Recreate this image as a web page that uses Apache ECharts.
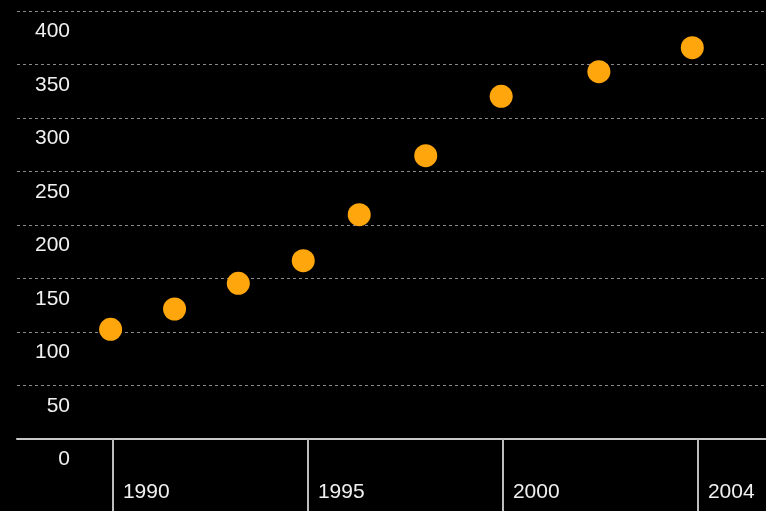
<!DOCTYPE html>
<html>
<head>
<meta charset="utf-8">
<script src="https://cdn.jsdelivr.net/npm/echarts@6/dist/echarts.min.js"></script>
<style>
html,body{margin:0;padding:0;background:#000;}
#chart{width:766px;height:511px;}
</style>
</head>
<body>
<div id="chart"></div>
<script>
// Tick labels along the x axis (evenly spaced positions 0..3)
const xTickLabels = ['1990', '1995', '2000', '2004'];
const xTickPositions = [0, 1, 2, 3];
// Point positions in x-tick units and their values
const pointX = [-0.012, 0.316, 0.643, 0.976, 1.263, 1.604, 1.991, 2.492, 2.971];
const pointY = [102.5, 121.5, 145.5, 166.6, 209.6, 264.8, 320.3, 343.3, 365.7];
const yTicks = [0, 50, 100, 150, 200, 250, 300, 350, 400];

const chart = echarts.init(document.getElementById('chart'));
chart.setOption({
  backgroundColor: '#000000',
  animation: false,
  grid: { left: 17, right: 0, top: 11, bottom: 72 },
  xAxis: {
    type: 'value',
    min: -0.492,
    max: 3.349,
    splitLine: { show: false },
    axisLine: { show: true, lineStyle: { color: '#c8c8c8', width: 2 } },
    axisTick: {
      show: true,
      customValues: xTickPositions,
      length: 74,
      inside: false,
      lineStyle: { color: '#bdbdbd', width: 2 }
    },
    axisLabel: {
      customValues: xTickPositions,
      formatter: function (v) {
        const i = xTickPositions.indexOf(Math.round(v));
        return i >= 0 ? xTickLabels[i] : '';
      },
      color: '#f0f0f0',
      fontSize: 21,
      fontFamily: 'Liberation Sans, Arial, sans-serif',
      align: 'left',
      verticalAlign: 'top',
      lineHeight: 21,
      margin: 43,
      padding: [0, 0, 0, 10]
    }
  },
  yAxis: {
    type: 'value',
    min: 0,
    max: 400,
    interval: 50,
    axisLine: { show: false },
    axisTick: { show: false },
    splitLine: {
      show: true,
      lineStyle: { color: '#8a8a8a', type: [3, 3], width: 1 }
    },
    axisLabel: {
      inside: true,
      margin: 53,
      align: 'right',
      verticalAlign: 'top',
      lineHeight: 21,
      padding: [10, 0, 0, 0],
      color: '#f0f0f0',
      fontSize: 21,
      fontFamily: 'Liberation Sans, Arial, sans-serif',
      showMaxLabel: true,
      showMinLabel: true
    }
  },
  series: [{
    type: 'scatter',
    symbol: 'circle',
    symbolSize: 23,
    itemStyle: { color: '#ffa60c', opacity: 1 },
    data: pointX.map((x, i) => [x, pointY[i]])
  }]
});
</script>
</body>
</html>
